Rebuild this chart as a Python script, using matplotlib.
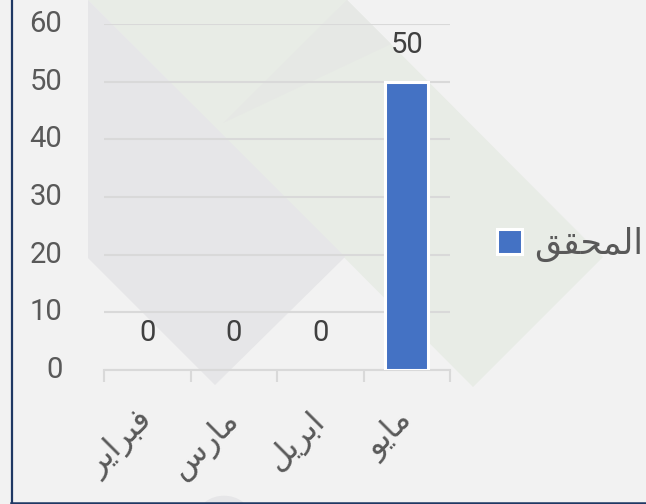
import matplotlib
matplotlib.use('Agg')
import matplotlib.pyplot as plt
from matplotlib.patches import Polygon, Patch, Circle
from matplotlib.lines import Line2D
import numpy as np

# arabic text pre-shaped (presentation forms, visual order) since matplotlib does no shaping
months = ['\uFEAE\uFEF3\uFE8D\uFEAE\uFE92\uFED3',   # فبراير
          '\uFEB1\uFEAD\uFE8E\uFEE3',               # مارس
          '\uFEDE\uFEF3\uFEAE\uFE91\uFE8D',         # ابريل
          '\uFEEE\uFEF3\uFE8E\uFEE3']               # مايو
achieved = [0, 0, 0, 50]
series_name = '\uFED6\uFED8\uFEA4\uFEE4\uFEDF\uFE8D'  # المحقق
yticks = [0, 10, 20, 30, 40, 50, 60]

plt.rcParams['font.family'] = ['Roboto', 'DejaVu Sans']

W, H = 646, 504


def fx(px, py):
    return (px / W, 1 - py / H)


fig = plt.figure(figsize=(W / 100, H / 100), dpi=100, facecolor='#f2f2f2')

# decorative background shapes (pixel coords, y down)
shapes = [
    ([(88, 0), (347, 0), (603, 257), (473, 387)], '#e8ece6'),
    ([(347, 0), (223, 123), (391, 44)], '#e6e8e5'),
    ([(88, 0), (345, 257), (215, 385), (88, 258)], '#e6e6e8'),
]
for pts, col in shapes:
    fig.add_artist(Polygon([fx(*p) for p in pts], closed=True, transform=fig.transFigure,
                           facecolor=col, edgecolor='none', zorder=-5))
fig.add_artist(Circle(fx(224, 516), 26 / W, transform=fig.transFigure,
                      facecolor='#e6e6e8', edgecolor='none', zorder=-5))

# frame lines on left and bottom
fig.add_artist(Line2D([11.5 / W, 11.5 / W], [0, 1], transform=fig.transFigure,
                      color='#1f3864', linewidth=1.6))
fig.add_artist(Line2D([11 / W, 1], [1 - 502.5 / H, 1 - 502.5 / H], transform=fig.transFigure,
                      color='#1f3864', linewidth=1.8))

ax = fig.add_axes([104 / W, 1 - 370 / H, (450 - 104) / W, (370 - 24) / H])
ax.set_facecolor('none')

x = np.arange(len(months))
edges = ['white' if v > 0 else 'none' for v in achieved]
bars = ax.bar(x, achieved, width=0.5, color='#4472c4', edgecolor=edges,
              linewidth=2.2, zorder=3)
ax.bar_label(bars, padding=16.5, fontsize=21, color='#404040')

ax.set_xlim(-0.5, len(months) - 0.5)
ax.set_ylim(0, 60)
ax.set_yticks(yticks)
ax.set_yticklabels([str(v) for v in yticks], fontsize=21, color='#595959', va='center')
ax.yaxis.grid(True, color='#d9d9d9', linewidth=1.5)
ax.set_axisbelow(True)

ax.set_xticks(x)
ax.set_xticklabels(months, rotation=45, ha='right', va='center',
                   rotation_mode='anchor', fontsize=23, color='#595959')
ax.set_xticks(np.arange(-0.5, len(months)), minor=True)
ax.tick_params(axis='x', which='major', length=0, pad=33)
ax.tick_params(axis='x', which='minor', length=8.6, width=1.5, color='#d9d9d9')
ax.tick_params(axis='y', length=0, pad=30)

for s in ['top', 'right', 'left']:
    ax.spines[s].set_visible(False)
ax.spines['bottom'].set_color('#d9d9d9')
ax.spines['bottom'].set_linewidth(1.5)

handle = Patch(facecolor='#4472c4', edgecolor='white', linewidth=2.2, label=series_name)
leg = fig.legend(handles=[handle], loc='center left', bbox_to_anchor=fx(497, 244),
                 frameon=False, fontsize=25, handlelength=0.72, handleheight=0.72,
                 handletextpad=0.35, borderpad=0, borderaxespad=0)
for t in leg.get_texts():
    t.set_color('#595959')

fig.savefig('out.png', dpi=100, facecolor=fig.get_facecolor())
